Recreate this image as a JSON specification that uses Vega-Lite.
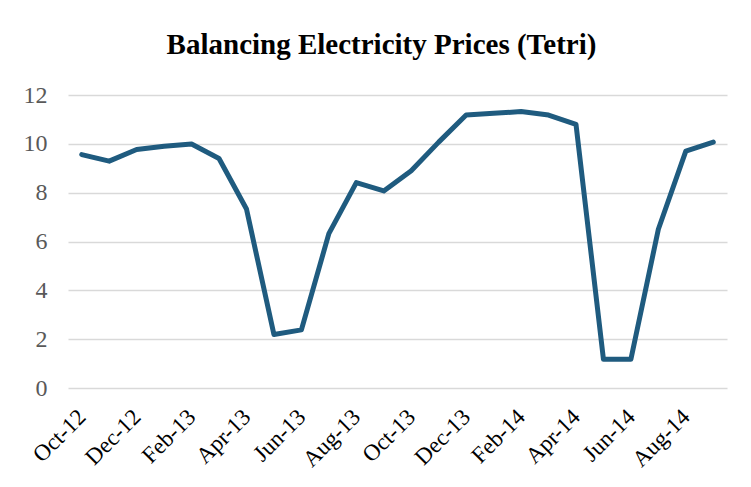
{
  "$schema": "https://vega.github.io/schema/vega-lite/v6.json",
  "autosize": {"type": "none"},
  "width": 659,
  "height": 293,
  "padding": {"left": 68, "top": 95, "right": 24, "bottom": 99},
  "background": "#ffffff",
  "title": {
    "text": "Balancing Electricity Prices (Tetri)",
    "font": "Liberation Serif",
    "fontSize": 29,
    "fontWeight": "bold",
    "color": "#000000",
    "anchor": "middle",
    "frame": "group",
    "offset": 23,
    "dx": -16
  },
  "config": {
    "view": {"stroke": null},
    "axis": {"grid": false}
  },
  "data": {
    "values": [
      {"month": "Oct-12", "price": 9.56},
      {"month": "Nov-12", "price": 9.29},
      {"month": "Dec-12", "price": 9.77},
      {"month": "Jan-13", "price": 9.9},
      {"month": "Feb-13", "price": 9.99},
      {"month": "Mar-13", "price": 9.4},
      {"month": "Apr-13", "price": 7.33},
      {"month": "May-13", "price": 2.19},
      {"month": "Jun-13", "price": 2.38},
      {"month": "Jul-13", "price": 6.32},
      {"month": "Aug-13", "price": 8.41},
      {"month": "Sep-13", "price": 8.07},
      {"month": "Oct-13", "price": 8.9},
      {"month": "Nov-13", "price": 10.07},
      {"month": "Dec-13", "price": 11.18},
      {"month": "Jan-14", "price": 11.25},
      {"month": "Feb-14", "price": 11.32},
      {"month": "Mar-14", "price": 11.18},
      {"month": "Apr-14", "price": 10.8},
      {"month": "May-14", "price": 1.18},
      {"month": "Jun-14", "price": 1.18},
      {"month": "Jul-14", "price": 6.5},
      {"month": "Aug-14", "price": 9.7},
      {"month": "Sep-14", "price": 10.07}
    ]
  },
  "mark": {"type": "line", "color": "#1f5b7f", "strokeWidth": 5, "strokeJoin": "round", "strokeCap": "round"},
  "encoding": {
    "x": {
      "field": "month",
      "type": "ordinal",
      "sort": null,
      "scale": {"type": "point", "padding": 0.5},
      "axis": {
        "title": null,
        "values": ["Oct-12", "Dec-12", "Feb-13", "Apr-13", "Jun-13", "Aug-13", "Oct-13", "Dec-13", "Feb-14", "Apr-14", "Jun-14", "Aug-14"],
        "labelAngle": -45,
        "labelAlign": "right",
        "labelBaseline": "middle",
        "labelFont": "Liberation Serif",
        "labelFontSize": 23,
        "labelColor": "#000000",
        "labelPadding": 25,
        "domain": false,
        "ticks": false,
        "grid": false
      }
    },
    "y": {
      "field": "price",
      "type": "quantitative",
      "scale": {"domain": [0, 12], "nice": false},
      "axis": {
        "title": null,
        "values": [0, 2, 4, 6, 8, 10, 12],
        "labelFont": "Liberation Serif",
        "labelFontSize": 24,
        "labelColor": "#595959",
        "labelPadding": 21,
        "domain": false,
        "ticks": false,
        "grid": true,
        "gridColor": "#d9d9d9",
        "gridWidth": 1.5
      }
    }
  }
}
